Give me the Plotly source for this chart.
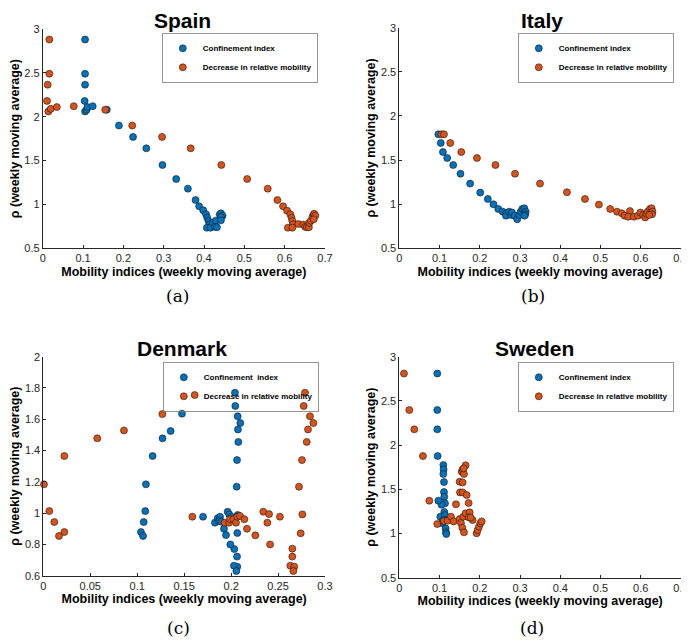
import plotly.graph_objects as go

# ---------------- DATA ----------------
spain_conf_x = [0.105, 0.105, 0.105, 0.104, 0.105, 0.109, 0.111, 0.124, 0.159, 0.189, 0.224, 0.257,
                0.297, 0.331, 0.360, 0.379, 0.388, 0.398, 0.405, 0.408, 0.411, 0.414, 0.407, 0.416,
                0.422, 0.429, 0.427, 0.432, 0.439, 0.442, 0.446, 0.442, 0.442]
spain_conf_y = [2.88, 2.49, 2.365, 2.18, 2.06, 2.08, 2.11, 2.12, 2.08, 1.90, 1.77, 1.64,
                1.45, 1.29, 1.18, 1.05, 0.979, 0.933, 0.888, 0.849, 0.811, 0.774, 0.735, 0.735,
                0.792, 0.815, 0.745, 0.740, 0.885, 0.899, 0.872, 0.855, 0.819]
spain_mob_x = [0.0165, 0.0165, 0.0124, 0.0107, 0.014, 0.020, 0.035, 0.077, 0.155, 0.222, 0.296, 0.367,
               0.443, 0.507, 0.558, 0.582, 0.596, 0.606, 0.614, 0.617, 0.619, 0.621, 0.608, 0.619,
               0.634, 0.646, 0.651, 0.655, 0.660, 0.661, 0.665, 0.669, 0.672, 0.673, 0.676, 0.672]
spain_mob_y = [2.88, 2.49, 2.365, 2.18, 2.06, 2.09, 2.11, 2.12, 2.08, 1.90, 1.77, 1.64,
               1.45, 1.29, 1.18, 1.05, 0.979, 0.929, 0.888, 0.849, 0.811, 0.774, 0.735, 0.735,
               0.777, 0.770, 0.745, 0.740, 0.740, 0.790, 0.815, 0.860, 0.885, 0.894, 0.873, 0.830]

italy_conf_x = [0.097, 0.103, 0.1085, 0.119, 0.134, 0.152, 0.176, 0.201, 0.220, 0.234, 0.246, 0.257,
                0.265, 0.265, 0.273, 0.2775, 0.280, 0.2866, 0.293, 0.298, 0.3016, 0.3057, 0.3106,
                0.314, 0.313, 0.311]
italy_conf_y = [1.792, 1.693, 1.591, 1.523, 1.444, 1.346, 1.233, 1.131, 1.059, 0.999, 0.946, 0.915,
                0.897, 0.870, 0.915, 0.878, 0.905, 0.870, 0.829, 0.878, 0.915, 0.946, 0.954,
                0.915, 0.885, 0.870]
italy_mob_x = [0.105, 0.111, 0.1267, 0.154, 0.193, 0.239, 0.2875, 0.3496, 0.4166, 0.4614, 0.496, 0.524,
               0.541, 0.553, 0.560, 0.573, 0.569, 0.583, 0.593, 0.599, 0.606, 0.611, 0.614, 0.617,
               0.623, 0.627, 0.629, 0.628, 0.621]
italy_mob_y = [1.792, 1.792, 1.693, 1.591, 1.523, 1.444, 1.346, 1.233, 1.135, 1.059, 0.995, 0.946,
               0.915, 0.897, 0.870, 0.922, 0.858, 0.858, 0.870, 0.905, 0.878, 0.850, 0.890, 0.915,
               0.946, 0.954, 0.915, 0.885, 0.878]

denmark_conf_x = [0.2041, 0.2045, 0.207, 0.2098, 0.2073, 0.2077, 0.2063, 0.2059, 0.207, 0.2066, 0.2063,
                  0.2066, 0.203, 0.2056, 0.2034, 0.1992, 0.1946, 0.1924, 0.1477, 0.1356, 0.127, 0.1164,
                  0.1093, 0.1086, 0.1069, 0.104, 0.1062, 0.1701, 0.1828, 0.1857, 0.1882, 0.1874,
                  0.1896, 0.1963, 0.198, 0.2003]
denmark_conf_y = [1.770, 1.685, 1.619, 1.576, 1.535, 1.455, 1.339, 1.169, 0.988, 0.873, 0.722,
                  0.658, 0.664, 0.630, 0.770, 0.800, 0.860, 0.900, 1.636, 1.525, 1.478, 1.365,
                  1.184, 1.013, 0.943, 0.879, 0.854, 0.977, 0.939, 0.967, 0.977, 0.950,
                  0.945, 1.009, 0.992, 0.977]
denmark_mob_x = [0.1612, 0.1268, 0.0859, 0.0575, 0.0224, 0.0007, 0.0064, 0.0117, 0.0224, 0.0167,
                 0.1587, 0.1931, 0.1978, 0.1988, 0.2024, 0.2052, 0.2066, 0.2095, 0.2141, 0.2169,
                 0.2258, 0.2343, 0.2404, 0.2386, 0.252, 0.2415, 0.2787, 0.2773, 0.284, 0.2876,
                 0.2819, 0.2805, 0.2755, 0.2723, 0.2759, 0.2741, 0.2652, 0.2652, 0.2631, 0.2673, 0.2663]
denmark_mob_y = [1.755, 1.633, 1.529, 1.478, 1.365, 1.184, 1.013, 0.943, 0.879, 0.854,
                 0.977, 0.939, 0.939, 0.961, 0.961, 0.939, 0.977, 0.982, 0.961, 0.900,
                 0.858, 1.009, 0.994, 0.939, 0.977, 0.800, 1.770, 1.685, 1.619, 1.576,
                 1.535, 1.455, 1.339, 1.169, 0.992, 0.871, 0.773, 0.722, 0.664, 0.658, 0.630]

sweden_conf_x = [0.0944, 0.0944, 0.0944, 0.0953, 0.1094, 0.110, 0.1094, 0.111, 0.111, 0.1118, 0.1135,
                 0.105, 0.097, 0.1019, 0.1118, 0.1135, 0.1135, 0.107, 0.115, 0.116, 0.1168, 0.115, 0.1085]
sweden_conf_y = [2.81, 2.397, 2.178, 1.876, 1.774, 1.725, 1.673, 1.582, 1.469, 1.416, 1.341,
                 1.326, 1.371, 1.190, 1.243, 1.209, 1.152, 1.115, 1.058, 1.013, 0.994, 1.150, 1.145]
sweden_mob_x = [0.0116, 0.0249, 0.0373, 0.0588, 0.0746, 0.0944, 0.111, 0.120, 0.1284, 0.135, 0.1408,
                0.1499, 0.1499, 0.1508, 0.1532, 0.1566, 0.1574, 0.1574, 0.155, 0.1574, 0.1607, 0.1648,
                0.160, 0.159, 0.1607, 0.1648, 0.1673, 0.1723, 0.1748, 0.1723, 0.1822, 0.1922, 0.1947,
                0.198, 0.2013, 0.2046, 0.1773]
sweden_mob_y = [2.81, 2.397, 2.178, 1.876, 1.371, 1.107, 1.141, 1.145, 1.190, 1.137, 1.330,
                1.164, 1.586, 1.465, 1.118, 1.065, 1.465, 1.578, 1.699, 1.725, 1.673, 1.771,
                1.737, 1.190, 1.013, 1.228, 1.435, 1.345, 1.239, 1.183, 1.152, 1.002, 1.039,
                1.077, 1.115, 1.137, 1.180]

countries = ["Spain", "Italy", "Denmark", "Sweden"]
panel_labels = ["(a)", "(b)", "(c)", "(d)"]
conf_names = ["Confinement index", "Confinement index", "Confinement\u00a0\u00a0index", "Confinement index"]
mob_name = "Decrease in relative mobility"
x_label = "Mobility indices (weekly moving average)"
y_label = "\u03c1 (weekly moving average)"

series = [
    (spain_conf_x, spain_conf_y, spain_mob_x, spain_mob_y),
    (italy_conf_x, italy_conf_y, italy_mob_x, italy_mob_y),
    (denmark_conf_x, denmark_conf_y, denmark_mob_x, denmark_mob_y),
    (sweden_conf_x, sweden_conf_y, sweden_mob_x, sweden_mob_y),
]

x_ranges = [[0, 0.7], [0, 0.7], [0, 0.3], [0, 0.7]]
y_ranges = [[0.5, 3], [0.5, 3], [0.6, 2], [0.5, 3]]
x_dticks = [0.1, 0.1, 0.05, 0.1]
y_dticks = [0.5, 0.5, 0.2, 0.5]

# ---------------- LAYOUT GEOMETRY ----------------
# the page body has an 8px margin; work in window pixels and convert
OFF = 8
W, H = 689 - OFF, 642 - OFF


def fx(px):
    return (px - OFF) / W


def fy(py):
    return 1 - (py - OFF) / H


x_doms = [[fx(42.7), fx(325)], [fx(399.3), fx(681)], [fx(43.3), fx(325)], [fx(399.3), fx(681)]]
y_doms = [[fy(248.3), fy(29)], [fy(248.3), fy(27.7)], [fy(575.7), fy(356.7)], [fy(577.7), fy(356.7)]]
title_pos = [(182, 21), (542, 21), (182, 348), (534, 348)]
label_pos = [(177, 296), (533, 296), (178, 628), (532, 628)]
legend_pos = [(318, 33), (674, 33), (319, 362), (674, 362)]

BLUE = "#0072BD"
ORANGE = "#D95319"
AXC = "#262626"
FONT = "Liberation Sans, Arial, Helvetica, sans-serif"

fig = go.Figure()
for i, (cx, cy, mx, my) in enumerate(series):
    xa = "x" if i == 0 else f"x{i+1}"
    ya = "y" if i == 0 else f"y{i+1}"
    lg = "legend" if i == 0 else f"legend{i+1}"
    marker_common = dict(size=7, line=dict(color="#1a1a1a", width=0.6))
    fig.add_trace(go.Scatter(x=cx, y=cy, mode="markers", name=f"<b>{conf_names[i]}</b>",
                             xaxis=xa, yaxis=ya, legend=lg, cliponaxis=False,
                             marker=dict(color=BLUE, **marker_common)))
    fig.add_trace(go.Scatter(x=mx, y=my, mode="markers", name=f"<b>{mob_name}</b>",
                             xaxis=xa, yaxis=ya, legend=lg, cliponaxis=False,
                             marker=dict(color=ORANGE, **marker_common)))

layout = dict(
    width=W, height=H,
    margin=dict(l=0, r=0, t=0, b=0),
    paper_bgcolor="white", plot_bgcolor="white",
    font=dict(family=FONT, color=AXC),
    annotations=[],
)

for i in range(4):
    sx = "" if i == 0 else str(i + 1)
    layout[f"xaxis{sx}"] = dict(
        domain=x_doms[i], anchor=f"y{sx}", range=x_ranges[i], dtick=x_dticks[i], tick0=0,
        showgrid=False, zeroline=False, showline=True, linecolor=AXC, linewidth=0.8,
        ticks="inside", ticklen=3, tickwidth=0.8, tickcolor=AXC,
        tickfont=dict(size=11, color=AXC, family=FONT),
        title=dict(text=f"<b>{x_label}</b>", font=dict(size=12.5, color="black", family=FONT), standoff=3),
        automargin=False, fixedrange=True,
    )
    layout[f"yaxis{sx}"] = dict(
        domain=y_doms[i], anchor=f"x{sx}", range=y_ranges[i], dtick=y_dticks[i], tick0=0,
        showgrid=False, zeroline=False, showline=True, linecolor=AXC, linewidth=0.8,
        ticks="inside", ticklen=3, tickwidth=0.8, tickcolor=AXC,
        tickfont=dict(size=11, color=AXC, family=FONT),
        title=dict(text=f"<b>{y_label}</b>", font=dict(size=12.5, color="black", family=FONT), standoff=2),
        automargin=False, fixedrange=True,
    )
    lgk = "legend" if i == 0 else f"legend{i+1}"
    lx, ly = legend_pos[i]
    layout[lgk] = dict(
        x=fx(lx), y=fy(ly), xanchor="right", yanchor="top", xref="paper", yref="paper",
        bgcolor="rgba(255,255,255,0)", bordercolor="#7a7a7a", borderwidth=0.8,
        font=dict(size=8, color="black", family=FONT), itemwidth=30,
        tracegroupgap=0,
    )
    tx, ty = title_pos[i]
    layout["annotations"].append(dict(
        x=fx(tx), y=fy(ty), xref="paper", yref="paper", xanchor="center", yanchor="middle",
        text=f"<b>{countries[i]}</b>", showarrow=False,
        font=dict(size=21, color="black", family=FONT)))
    px_, py_ = label_pos[i]
    layout["annotations"].append(dict(
        x=fx(px_), y=fy(py_), xref="paper", yref="paper", xanchor="center", yanchor="middle",
        text=panel_labels[i], showarrow=False,
        font=dict(size=17, color="black", family="DejaVu Serif, Liberation Serif, serif")))

fig.update_layout(**layout)
fig.write_html("out.html")
